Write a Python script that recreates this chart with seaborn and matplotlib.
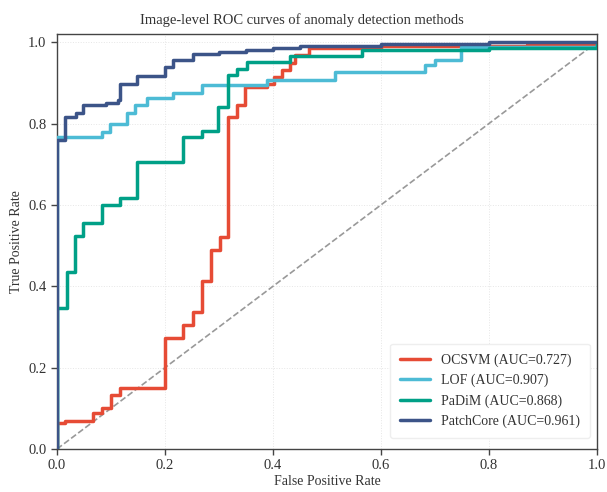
import numpy as np
import pandas as pd
import matplotlib
matplotlib.use("Agg")
import matplotlib.pyplot as plt
import seaborn as sns

# ---- data ----
methods = ["OCSVM", "LOF", "PaDiM", "PatchCore"]
aucs = [0.727, 0.907, 0.868, 0.961]
colors = ["#E64B35", "#4DBBD5", "#00A087", "#3C5488"]

ocsvm_fpr = [0, 0, 0.015, 0.066, 0.083, 0.100, 0.117, 0.200, 0.234, 0.251, 0.268, 0.285,
             0.301, 0.317, 0.334, 0.348, 0.388, 0.401, 0.416, 0.431, 0.441, 0.467, 0.600,
             0.870, 1.0]
ocsvm_tpr = [0, 0.065, 0.070, 0.088, 0.101, 0.133, 0.149, 0.274, 0.305, 0.336, 0.413, 0.489,
             0.520, 0.815, 0.845, 0.890, 0.898, 0.915, 0.931, 0.948, 0.968, 0.985, 0.990,
             0.993, 1.0]

lof_fpr = [0, 0, 0.083, 0.098, 0.129, 0.144, 0.166, 0.215, 0.268, 0.388, 0.515, 0.681,
           0.700, 0.749, 1.0]
lof_tpr = [0, 0.767, 0.780, 0.800, 0.825, 0.845, 0.862, 0.876, 0.894, 0.907, 0.927, 0.943,
           0.956, 0.988, 1.0]

padim_fpr = [0, 0, 0.018, 0.033, 0.049, 0.083, 0.117, 0.149, 0.233, 0.268, 0.299, 0.317,
             0.333, 0.351, 0.431, 0.564, 0.800, 1.0]
padim_tpr = [0, 0.346, 0.436, 0.523, 0.555, 0.600, 0.616, 0.706, 0.767, 0.782, 0.841, 0.919,
             0.935, 0.952, 0.966, 0.980, 0.985, 1.0]

patchcore_fpr = [0, 0, 0.015, 0.035, 0.049, 0.090, 0.113, 0.117, 0.149, 0.200, 0.215, 0.252,
                 0.300, 0.350, 0.400, 0.450, 0.600, 0.800, 1.0]
patchcore_tpr = [0, 0.759, 0.816, 0.827, 0.845, 0.850, 0.857, 0.898, 0.917, 0.940, 0.956, 0.970,
                 0.975, 0.980, 0.985, 0.990, 0.995, 1.0, 1.0]

fprs = [ocsvm_fpr, lof_fpr, padim_fpr, patchcore_fpr]
tprs = [ocsvm_tpr, lof_tpr, padim_tpr, patchcore_tpr]

rows = []
for m, a, fx, ty in zip(methods, aucs, fprs, tprs):
    lab = f"{m} (AUC={a:.3f})"
    for i, (x, y) in enumerate(zip(fx, ty)):
        rows.append({"label": lab, "order": i, "fpr": x, "tpr": y})
df = pd.DataFrame(rows)
labels = [f"{m} (AUC={a:.3f})" for m, a in zip(methods, aucs)]

# ---- style ----
sns.set_style("white")
plt.rcParams["font.family"] = ["Liberation Serif", "DejaVu Serif"]
plt.rcParams["axes.edgecolor"] = "#444444"
plt.rcParams["axes.linewidth"] = 1.0

fig = plt.figure(figsize=(6.07, 4.92), dpi=100)
ax = fig.add_axes([57 / 607, 1 - 449 / 492, 540 / 607, 415 / 492])

ax.grid(True, color="#e6e6e6", linewidth=0.7, linestyle=":")
ax.set_axisbelow(True)

ax.plot([0, 1], [0, 1], linestyle="--", color="#999999", linewidth=1.2, zorder=1)

sns.lineplot(data=df, x="fpr", y="tpr", hue="label", hue_order=labels,
             palette=dict(zip(labels, colors)), estimator=None, sort=False,
             units="label", drawstyle="steps-post", linewidth=2.5, ax=ax, zorder=3)

ax.set_xlim(0, 1)
ax.set_ylim(0, 1.02)
ax.set_xticks([0, 0.2, 0.4, 0.6, 0.8, 1.0])
ax.set_yticks([0, 0.2, 0.4, 0.6, 0.8, 1.0])
ax.tick_params(axis="both", direction="out", length=4, width=1, color="#444444",
               labelsize=10.5, labelcolor="#333333", bottom=True, left=True)
ax.set_xlabel("False Positive Rate", fontsize=10, color="#333333", labelpad=2)
ax.set_ylabel("True Positive Rate", fontsize=10, color="#333333", labelpad=4)
ax.set_title("Image-level ROC curves of anomaly detection methods", fontsize=10.5,
             color="#333333", pad=7, x=(302 - 57) / 540)

leg = ax.legend(loc="lower right", fontsize=10, frameon=True, framealpha=1,
                edgecolor="#eeeeee", handlelength=2.2, borderpad=0.7,
                labelspacing=0.5, bbox_to_anchor=(1.0, 0.01))
for t in leg.get_texts():
    t.set_color("#333333")
for s in ax.spines.values():
    s.set_visible(True)

fig.savefig("out.png", dpi=100)
